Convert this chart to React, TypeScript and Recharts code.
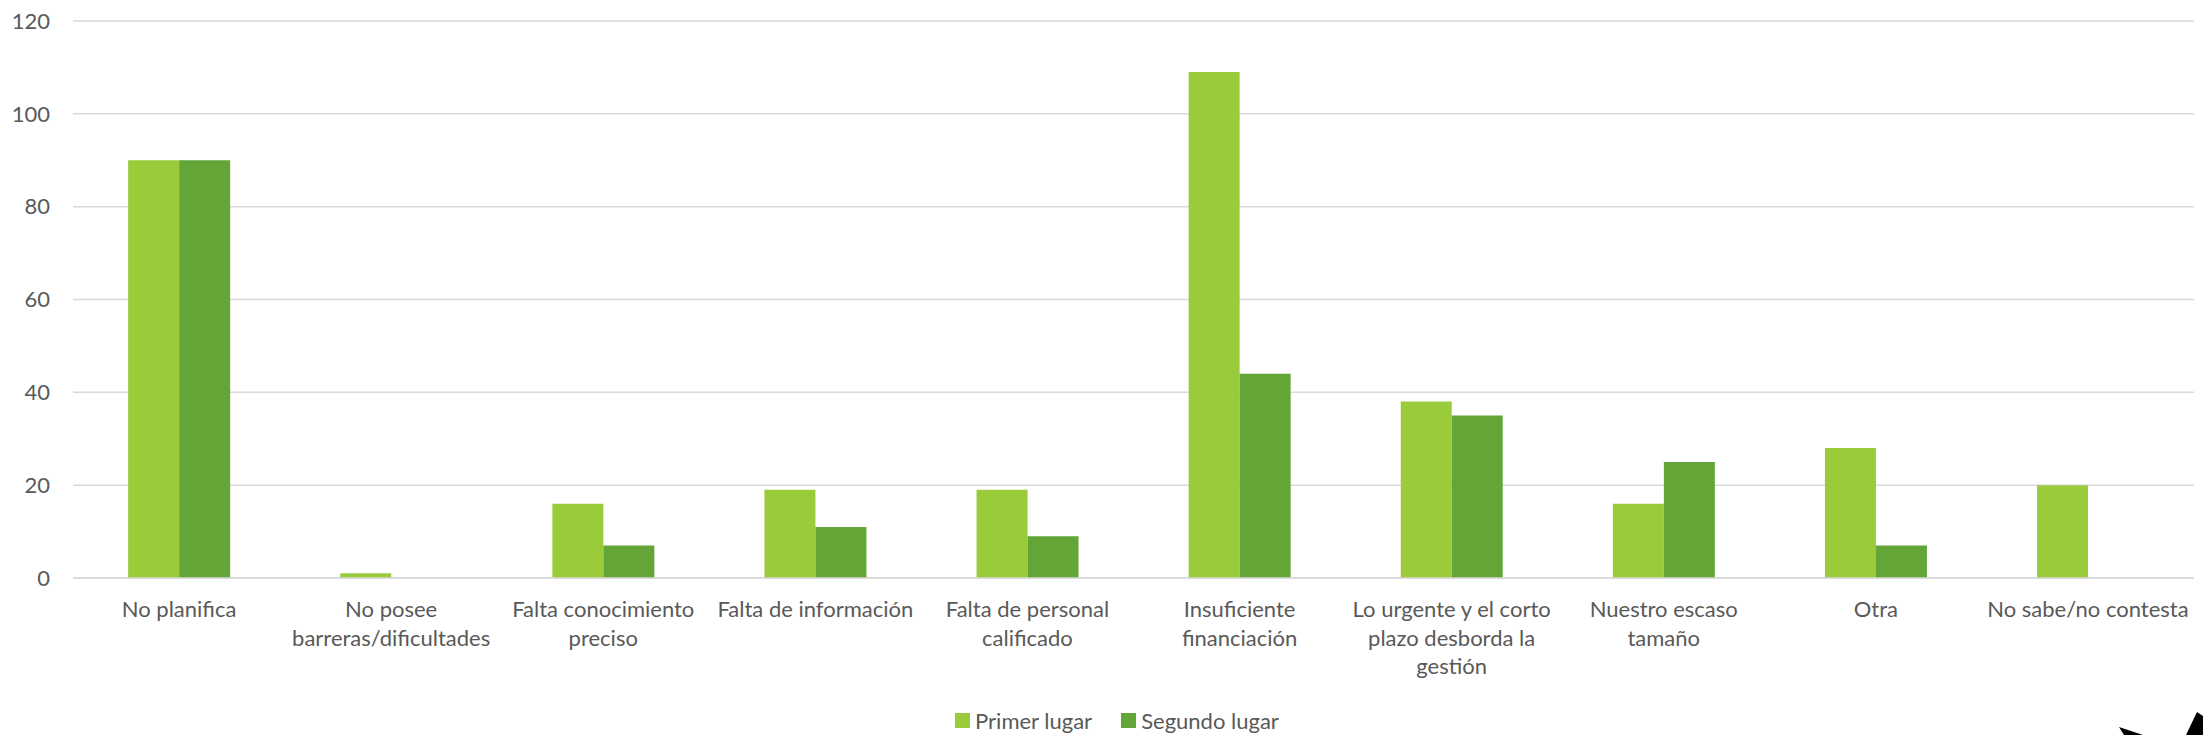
import React from "react";
import { BarChart, Bar, XAxis, YAxis, CartesianGrid, Legend } from "recharts";

// Barriers to planning, ranked first and second
const categories = [
  "No planifica",
  "No posee barreras/dificultades",
  "Falta conocimiento preciso",
  "Falta de información",
  "Falta de personal calificado",
  "Insuficiente financiación",
  "Lo urgente y el corto plazo desborda la gestión",
  "Nuestro escaso tamaño",
  "Otra",
  "No sabe/no contesta",
];

// Wrapped tick labels, one entry per category
const tickLabelLines: string[][] = [
  ["No planifica"],
  ["No posee", "barreras/dificultades"],
  ["Falta conocimiento", "preciso"],
  ["Falta de información"],
  ["Falta de personal", "calificado"],
  ["Insuficiente", "financiación"],
  ["Lo urgente y el corto", "plazo desborda la", "gestión"],
  ["Nuestro escaso", "tamaño"],
  ["Otra"],
  ["No sabe/no contesta"],
];

const primerLugar = [90, 1, 16, 19, 19, 109, 38, 16, 28, 20];
const segundoLugar = [90, 0, 7, 11, 9, 44, 35, 25, 7, 0];

const seriesNames = ["Primer lugar", "Segundo lugar"];
const seriesColors = ["#9ACB3B", "#63A537"];

const yTicks = [0, 20, 40, 60, 80, 100, 120];

const data = categories.map((name, i) => ({
  name,
  primer: primerLugar[i],
  segundo: segundoLugar[i],
}));

const FONT = "Lato, 'Open Sans', sans-serif";
const FONT_SIZE = 22;
const TEXT_COLOR = "#595959";
const GRID_COLOR = "#d9d9d9";

const CategoryTick = (props: any) => {
  const { x, y, payload } = props;
  const lines = tickLabelLines[payload.index] ?? [String(payload.value)];
  return (
    <text
      x={x}
      y={y}
      textAnchor="middle"
      fill={TEXT_COLOR}
      fontFamily={FONT}
      fontSize={FONT_SIZE}
    >
      {lines.map((line, i) => (
        <tspan key={i} x={x} dy={i === 0 ? 39 : 28.5}>
          {line}
        </tspan>
      ))}
    </text>
  );
};

const LegendContent = () => (
  <div
    style={{
      display: "flex",
      justifyContent: "center",
      alignItems: "center",
      height: 24,
      fontFamily: FONT,
      fontSize: FONT_SIZE,
      color: TEXT_COLOR,
      paddingLeft: 40,
    }}
  >
    {seriesNames.map((name, i) => (
      <div
        key={name}
        style={{
          display: "flex",
          alignItems: "center",
          marginRight: i === 0 ? 29 : 0,
        }}
      >
        <span
          style={{
            display: "inline-block",
            width: 15,
            height: 15,
            background: seriesColors[i],
            marginRight: 5,
          }}
        />
        <span>{name}</span>
      </div>
    ))}
  </div>
);

export default function App() {
  return (
    <div style={{ position: "absolute", left: 0, top: 0, width: 2203, height: 735, background: "#fff" }}>
      <BarChart
        width={2203}
        height={735}
        data={data}
        margin={{ top: 21, right: 9, bottom: 3, left: 0 }}
        barCategoryGap="26%"
        barGap={0}
      >
        <CartesianGrid vertical={false} stroke={GRID_COLOR} strokeWidth={1.5} />
        <XAxis
          dataKey="name"
          height={130}
          axisLine={{ stroke: GRID_COLOR, strokeWidth: 1.5 }}
          tickLine={false}
          tickSize={0}
          tickMargin={0}
          interval={0}
          tick={<CategoryTick />}
        />
        <YAxis
          width={73}
          domain={[0, 120]}
          ticks={yTicks}
          axisLine={false}
          tickLine={false}
          tickSize={6}
          tickMargin={17}
          tick={{ fill: TEXT_COLOR, fontFamily: FONT, fontSize: FONT_SIZE }}
        />
        <Legend
          verticalAlign="bottom"
          align="center"
          wrapperStyle={{ height: 24 }}
          content={<LegendContent />}
        />
        <Bar dataKey="primer" name={seriesNames[0]} fill={seriesColors[0]} isAnimationActive={false} />
        <Bar dataKey="segundo" name={seriesNames[1]} fill={seriesColors[1]} isAnimationActive={false} />
      </BarChart>
      <svg
        width={2203}
        height={735}
        style={{ position: "absolute", left: 0, top: 0, pointerEvents: "none" }}
      >
        <polygon points="2119,727 2143,735 2124,735" fill="#000" />
        <polygon points="2197,712 2203,716 2203,735 2186,735" fill="#000" />
      </svg>
    </div>
  );
}
